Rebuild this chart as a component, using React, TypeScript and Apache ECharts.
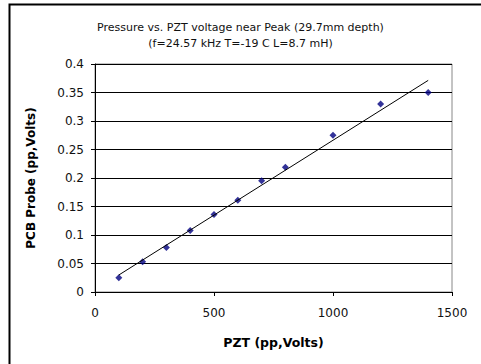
import React, { useEffect, useRef } from "react";
import * as echarts from "echarts";

const pztVolts = [100, 200, 300, 400, 500, 600, 700, 800, 1000, 1200, 1400];
const probeVolts = [0.025, 0.053, 0.078, 0.108, 0.136, 0.161, 0.195, 0.219, 0.275, 0.33, 0.35];
const titleLines = ["Pressure vs. PZT voltage near Peak (29.7mm depth)", "(f=24.57 kHz T=-19 C L=8.7 mH)"];
const xName = "PZT (pp,Volts)";
const yName = "PCB Probe (pp,Volts)";

function linearFit(xs: number[], ys: number[]) {
  const n = xs.length;
  const mx = xs.reduce((a, b) => a + b, 0) / n;
  const my = ys.reduce((a, b) => a + b, 0) / n;
  let sxy = 0;
  let sxx = 0;
  for (let i = 0; i < n; i++) {
    sxy += (xs[i] - mx) * (ys[i] - my);
    sxx += (xs[i] - mx) * (xs[i] - mx);
  }
  const slope = sxy / sxx;
  return { slope, intercept: my - slope * mx };
}

export default function App() {
  const ref = useRef<HTMLDivElement>(null);
  useEffect(() => {
    if (!ref.current) return;
    const chart = echarts.init(ref.current, null, { renderer: "svg" });
    const fit = linearFit(pztVolts, probeVolts);
    const x0 = Math.min(...pztVolts);
    const x1 = Math.max(...pztVolts);
    const font = "DejaVu Sans";
    chart.setOption({
      animation: false,
      backgroundColor: "#ffffff",
      title: {
        text: titleLines.join("\n"),
        left: "center",
        top: 14,
        textStyle: { fontFamily: font, fontSize: 11, fontWeight: "normal", color: "#111", lineHeight: 16 },
      },
      graphic: [
        {
          type: "polyline",
          shape: { points: [[9.5, 364], [9.5, 4.5], [481, 4.5]] },
          style: { stroke: "#000", lineWidth: 2, fill: null },
        },
      ],
      grid: {
        left: 95,
        right: 29,
        top: 64,
        bottom: 72,
        show: true,
        borderColor: "#888",
        borderWidth: 1,
      },
      xAxis: {
        type: "value",
        min: 0,
        max: 1500,
        interval: 500,
        name: xName,
        nameLocation: "middle",
        nameGap: 44,
        nameTextStyle: { fontFamily: font, fontSize: 12.5, fontWeight: "bold", color: "#000" },
        axisLine: { show: true, lineStyle: { color: "#000", width: 1 } },
        axisTick: { show: true, inside: false, length: 4, lineStyle: { color: "#000" } },
        axisLabel: { fontFamily: font, fontSize: 12, color: "#111", margin: 15, formatter: (v: number) => String(v) },
        splitLine: { show: false },
      },
      yAxis: {
        type: "value",
        min: 0,
        max: 0.4,
        interval: 0.05,
        name: yName,
        nameLocation: "middle",
        nameGap: 58,
        nameTextStyle: { fontFamily: font, fontSize: 12, fontWeight: "bold", color: "#000" },
        axisLine: { show: true, lineStyle: { color: "#000", width: 1 } },
        axisTick: { show: true, inside: false, length: 4, lineStyle: { color: "#000" } },
        axisLabel: { fontFamily: font, fontSize: 12, color: "#111", margin: 11 },
        splitLine: { show: true, lineStyle: { color: "#000", width: 1 } },
      },
      series: [
        {
          type: "line",
          data: [
            [x0, fit.intercept + fit.slope * x0],
            [x1, fit.intercept + fit.slope * x1],
          ],
          symbol: "none",
          lineStyle: { color: "#000", width: 1 },
          silent: true,
        },
        {
          type: "scatter",
          data: pztVolts.map((x, i) => [x, probeVolts[i]]),
          symbol: "diamond",
          symbolSize: [7, 7],
          itemStyle: { color: "#000080" },
        },
      ],
    });
    return () => chart.dispose();
  }, []);
  return <div ref={ref} style={{ position: "absolute", left: 0, top: 0, width: 481, height: 364 }} />;
}
